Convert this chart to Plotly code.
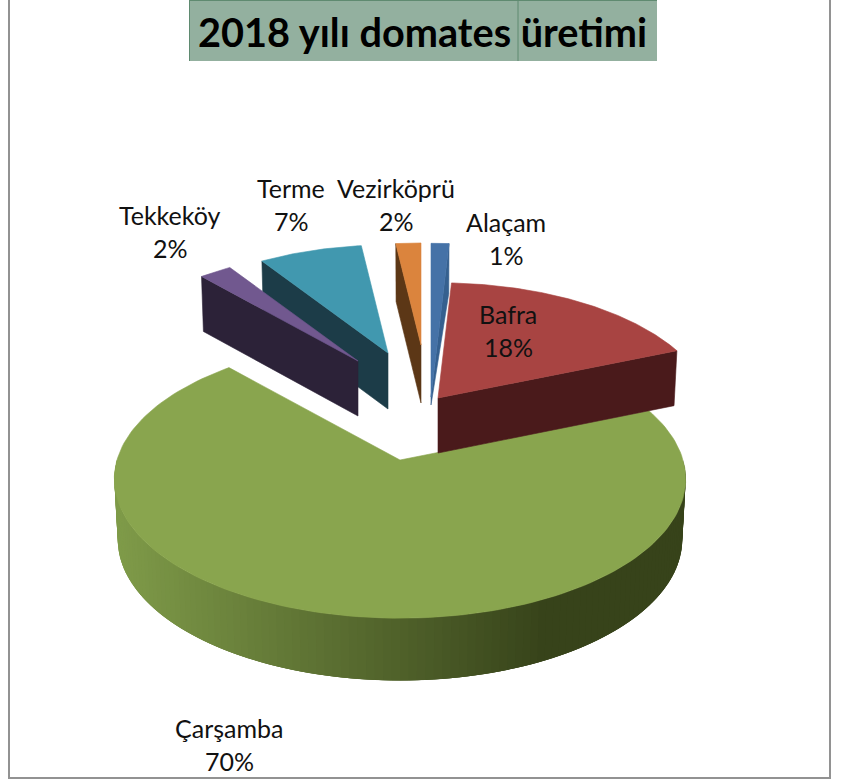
import numpy as np
import plotly.graph_objects as go

W, H = 852, 782

# ---- data ----
categories = ["Alaçam", "Bafra", "Çarşamba", "Tekkeköy", "Terme", "Vezirköprü"]
values = [0.9, 17.9, 69.6, 2.3, 7.4, 1.9]
title_text = "2018 yılı domates üretimi"

# ---- style ----
top_colors = {"Alaçam": "#4572a7", "Bafra": "#a84442", "Çarşamba": "#89a54e",
              "Tekkeköy": "#71588f", "Terme": "#4198af", "Vezirköprü": "#db843d"}
wall_colors = {"Alaçam": "#35608f", "Bafra": "#4a1a1b", "Tekkeköy": "#2c2238",
               "Terme": "#1c3c48", "Vezirköprü": "#5c3716"}
# apex of each exploded slice (px), scale, wall height at rim (px), wall height at apex (px)
placement = {"Alaçam": (431, 397, 1.28, 50, 8), "Bafra": (438, 398, 0.96, 55, 55),
             "Çarşamba": (400, 460, 1.0, 60, 60), "Tekkeköy": (358, 361, 0.915, 55, 55),
             "Terme": (388, 353, 0.90, 56, 56), "Vezirköprü": (421, 345, 0.85, 58, 58)}
label_pos = {"Alaçam": (506, 222), "Bafra": (508, 314), "Çarşamba": (229, 728),
             "Tekkeköy": (170, 215), "Terme": (291, 188), "Vezirköprü": (396, 188)}
LINE_GAP = 33
draw_order = ["Alaçam", "Vezirköprü", "Terme", "Tekkeköy", "Çarşamba", "Bafra"]
R, S, K = 283.0, 136.5, 0.137

# slice angles from the values (clockwise from twelve o'clock)
total = sum(values)
angles, start = {}, 0.0
for c, v in zip(categories, values):
    angles[c] = (start, start + 360.0 * v / total)
    start += 360.0 * v / total
percent = {c: f"{int(v / total * 100 + 0.5)}%" for c, v in zip(categories, values)}


def rim(c, deg):
    ax, ay, s = placement[c][:3]
    t = np.radians(deg)
    u, v = np.sin(t), np.cos(t)
    w = 1 + K * v
    return ax + s * R * u / w, ay - s * S * v / w


def arc(c, a0, a1, n=80):
    return rim(c, np.linspace(a0, a1, n))


def poly(xs, ys, color, lw=0.6):
    return go.Scatter(x=list(xs), y=list(ys), mode="lines", fill="toself",
                      fillcolor=color, line=dict(color=color, width=lw),
                      hoverinfo="skip", showlegend=False)


def lerp_hex(c0, c1, f):
    a = [int(c0[i:i + 2], 16) for i in (1, 3, 5)]
    b = [int(c1[i:i + 2], 16) for i in (1, 3, 5)]
    return "#" + "".join(f"{round(p + (q - p) * f):02x}" for p, q in zip(a, b))


fig = go.Figure()
TAPER = 0.988
for c in draw_order:
    a0, a1 = angles[c]
    ax, ay, s, d, d_apex = placement[c]
    rx0, ry0 = rim(c, a0)
    rx1, ry1 = rim(c, a1)
    if c == "Çarşamba":
        # outer curved wall, shaded from left to right; segments overlap to hide seams
        edges = np.linspace(90, 270, 121)
        for e0, e1 in zip(edges[:-1], edges[1:]):
            xs, ys = arc(c, e0, min(e1 + 3.0, 270), 6)
            xb = ax + (xs - ax) * TAPER
            yb = ys + d + 2 * (ys - ay) / S
            xm = float(rim(c, (e0 + e1) / 2)[0])
            f = np.clip((xm - 115) / 430, 0, 1)
            fig.add_trace(poly(np.r_[xs, xb[::-1]], np.r_[ys, yb[::-1]],
                               lerp_hex("#7f9b49", "#37431a", f), lw=0))
    else:
        # visible radial wall of the slice
        ex, ey = (rx1, ry1) if c in ("Alaçam", "Bafra") else (rx0, ry0)
        fig.add_trace(poly([ax, ex, ax + (ex - ax) * TAPER, ax, ax],
                           [ay, ey, ey + d, ay + d_apex, ay], wall_colors[c]))
    xs, ys = arc(c, a0, a1, 160)
    fig.add_trace(poly(np.r_[ax, xs, ax], np.r_[ay, ys, ay], top_colors[c]))

FONT = "Lato, Carlito, Calibri, sans-serif"
for c in categories:
    lx, ly = label_pos[c]
    for line, yy in ((c, ly), (percent[c], ly + LINE_GAP)):
        fig.add_annotation(x=lx, y=yy, text=line, showarrow=False,
                           xanchor="center", yanchor="middle",
                           font=dict(family=FONT, size=25, color="#111111"))

fig.add_annotation(x=422, y=31, text=f"<b>{title_text}</b>", showarrow=False,
                   xanchor="center", yanchor="middle",
                   font=dict(family=FONT, size=39.7, color="#000000"))

GREEN_EDGE = "#5f8a70"
shapes = [
    dict(type="rect", x0=9, x1=830, y0=-3, y1=778, line=dict(color="#929292", width=2),
         fillcolor="white", layer="below"),
    dict(type="rect", x0=189, x1=657, y0=0, y1=61, line=dict(width=0),
         fillcolor="#93b09f", layer="below"),
    dict(type="line", x0=518, x1=518, y0=0, y1=61, line=dict(color=GREEN_EDGE, width=1),
         layer="below"),
    dict(type="line", x0=189.5, x1=189.5, y0=0, y1=61, line=dict(color=GREEN_EDGE, width=1),
         layer="below"),
    dict(type="line", x0=189, x1=657, y0=0.5, y1=0.5, line=dict(color=GREEN_EDGE, width=1),
         layer="below"),
]

fig.update_layout(
    width=W, height=H, margin=dict(l=0, r=0, t=0, b=0),
    paper_bgcolor="white", plot_bgcolor="white", showlegend=False, shapes=shapes,
    xaxis=dict(range=[0, W], visible=False, fixedrange=True),
    yaxis=dict(range=[H, 0], visible=False, fixedrange=True),
)
fig.write_html("out.html", config={"displayModeBar": False},
               post_script="document.body.style.margin='0';document.body.style.overflow='hidden';")
